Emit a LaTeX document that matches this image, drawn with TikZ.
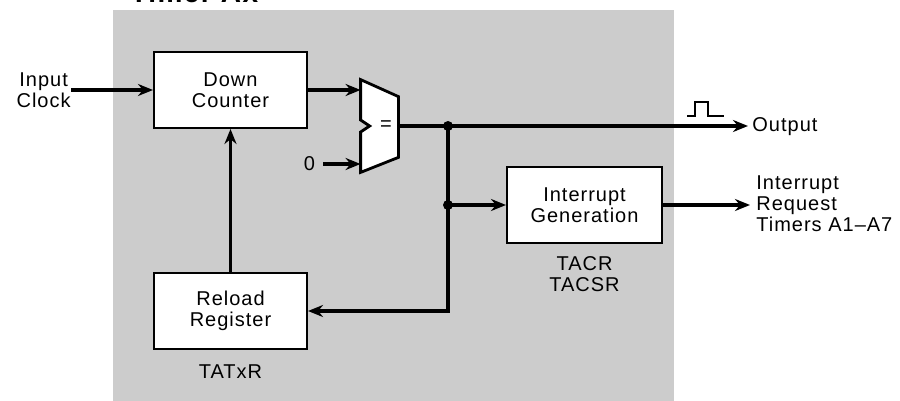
\documentclass[tikz,border=0pt]{standalone}
\usepackage{fontspec}
\setmainfont{Liberation Sans}[LetterSpace=5]
\usepackage{xcolor}
\usetikzlibrary{arrows.meta,positioning,calc}
\definecolor{blockgray}{HTML}{CCCCCC}

\begin{document}
\begin{tikzpicture}[
  x=0.5pt, y=-0.5pt,
  >={Stealth[length=7.5pt,width=6pt]},
  txt/.style={font=\fontsize{10}{10.5}\selectfont, inner sep=0pt, align=center},
  box/.style={txt, draw, line width=1pt, fill=white,
              minimum width=76.5pt, minimum height=38pt},
  wire/.style={->, line width=1.6pt}]

  \useasboundingbox (0,0) rectangle (900,401);
  \fill[blockgray] (113,10) rectangle (674,401);
  \node[anchor=base west, inner sep=0pt, font=\bfseries\fontsize{14}{14}\selectfont] (title) at (130,3) {Timer Ax};

  \node[box] (dc) at (230.5,90) {Down\\Counter};
  \node[box] (rr) at (230.5,311) {Reload\\Register};
  \node[box, minimum width=77.5pt] (ig) at (584.5,205) {Interrupt\\Generation};

  % comparator
  \node[inner sep=0pt, minimum width=18.5pt, minimum height=46pt] (cmp) at (379.5,126) {};
  \draw[line width=1.4pt, fill=white, line join=miter]
    (cmp.north west) -- ($(cmp.north east)+(0,17)$) -- ($(cmp.south east)+(0,-15)$)
    -- (cmp.south west) -- ($(cmp.west)+(0,6)$) -- ($(cmp.west)+(9,0)$)
    -- ($(cmp.west)+(0,-6)$) -- cycle;
  \node[txt] (eq) at (386,126) {=};

  \node[txt, anchor=east] (clk) at (71,90) {Input\\Clock};
  \node[txt] (zero) at (309.5,164) {0};
  \node[txt, anchor=west] (out) at (752,127) {Output};
  \node[txt, anchor=west, align=left] (ireq) at (756,204) {Interrupt\\Request\\Timers A1–A7};
  \node[txt, below=7pt of rr] (tatx) {TATxR};
  \node[txt, below=6pt of ig] (tacr) {TACR\\TACSR};

  \coordinate (j1) at (448,126);
  \coordinate (j2) at (j1 |- ig.west);

  \draw[wire] (clk.east) -- (dc.west);
  \draw[wire] (dc.east) -- (dc.east -| cmp.west);
  \draw[wire, shorten <=4pt] (zero.east) -- (zero.east -| cmp.west);
  \draw[wire, -] (cmp.east) -- (j1);
  \draw[wire, shorten >=2pt] (j1) -- (j1 -| out.west);
  \draw[wire] (j1) |- (rr.east);
  \draw[wire] (j2) -- (ig.west);
  \draw[wire, shorten >=3pt] (ig.east) -- (ig.east -| ireq.west);
  \draw[wire] (rr.north) -- (dc.south);
  \fill (j1) circle[radius=2.5pt];
  \fill (j2) circle[radius=2.5pt];

  % pulse
  \draw[line width=1.4pt] (687,116) -- (695,116) -- (695,102) -- (708,102) -- (708,116) -- (724,116);
\end{tikzpicture}
\end{document}
